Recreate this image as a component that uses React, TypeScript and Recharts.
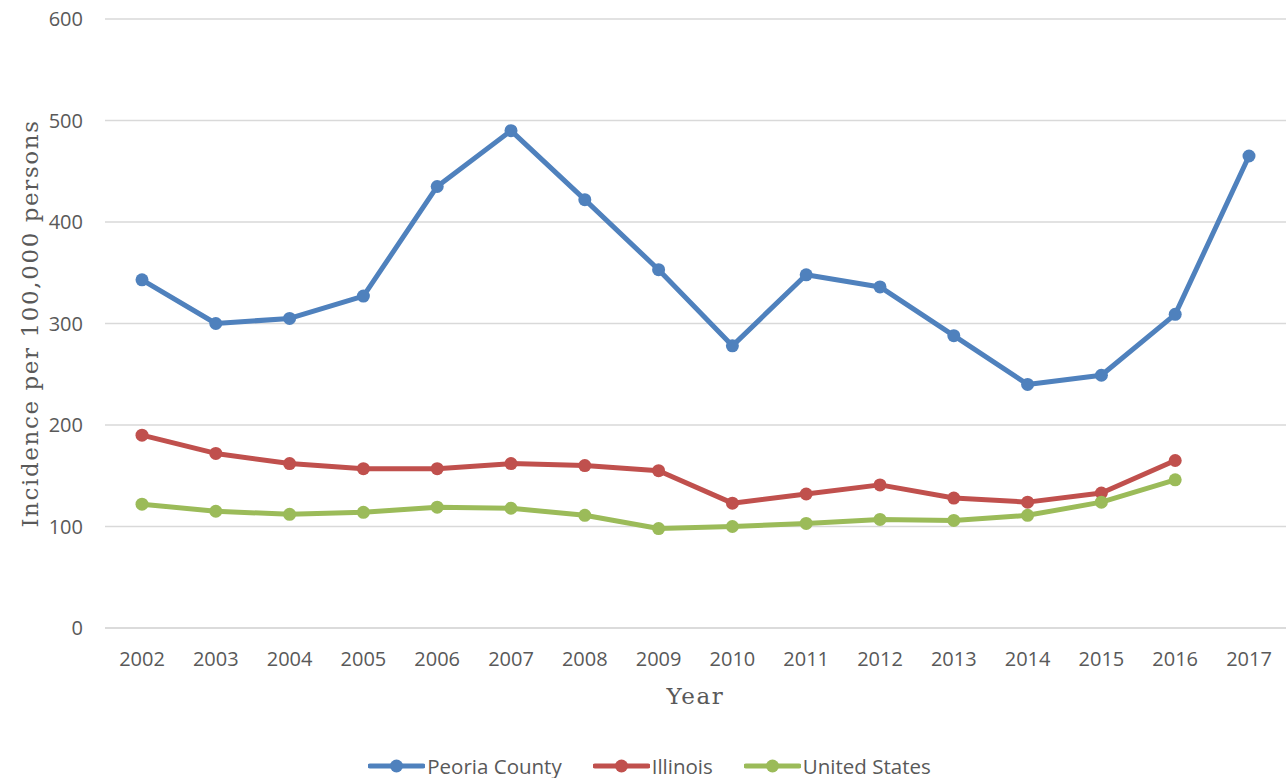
import {
  LineChart,
  Line,
  XAxis,
  YAxis,
  CartesianGrid,
  Legend,
  Label,
} from "recharts";

const years = [
  "2002", "2003", "2004", "2005", "2006", "2007", "2008", "2009",
  "2010", "2011", "2012", "2013", "2014", "2015", "2016", "2017",
];

const peoria = [343, 300, 305, 327, 435, 490, 422, 353, 278, 348, 336, 288, 240, 249, 309, 465];
const illinois = [190, 172, 162, 157, 157, 162, 160, 155, 123, 132, 141, 128, 124, 133, 165, null];
const unitedStates = [122, 115, 112, 114, 119, 118, 111, 98, 100, 103, 107, 106, 111, 124, 146, null];

const yTicks = [0, 100, 200, 300, 400, 500, 600];

const series = [
  { key: "peoria", name: "Peoria County", color: "#4F81BD" },
  { key: "illinois", name: "Illinois", color: "#C0504D" },
  { key: "us", name: "United States", color: "#9BBB59" },
];

const data = years.map((y, i) => ({
  year: y,
  peoria: peoria[i],
  illinois: illinois[i],
  us: unitedStates[i],
}));

const tickStyle = { fill: "#595959", fontSize: 20, fontFamily: "'Open Sans', sans-serif" };
const titleFont = "'DejaVu Serif', serif";

function LegendContent() {
  return (
    <div
      style={{
        display: "flex",
        justifyContent: "center",
        alignItems: "center",
        height: 24,
        paddingLeft: 13,
        fontFamily: "'Open Sans', sans-serif",
        fontSize: 20.5,
        color: "#595959",
      }}
    >
      {series.map((s, i) => (
        <div
          key={s.key}
          style={{ display: "flex", alignItems: "center", marginLeft: i === 0 ? 0 : 31 }}
        >
          <svg width={57} height={16}>
            <line x1={2} y1={8} x2={55} y2={8} stroke={s.color} strokeWidth={5} strokeLinecap="round" />
            <circle cx={28.5} cy={8} r={6.5} fill={s.color} />
          </svg>
          <span style={{ marginLeft: 2 }}>{s.name}</span>
        </div>
      ))}
    </div>
  );
}

export default function App() {
  return (
    <div style={{ position: "absolute", left: 0, top: 0, background: "#fff" }}>
      <LineChart
        width={1286}
        height={778}
        data={data}
        margin={{ top: 19, right: 0, left: 0, bottom: 0 }}
      >
        <CartesianGrid vertical={false} stroke="#d9d9d9" strokeWidth={1.3} />
        <XAxis
          dataKey="year"
          height={126}
          padding={{ left: 37, right: 37 }}
          tick={tickStyle}
          tickLine={false}
          axisLine={{ stroke: "#d9d9d9", strokeWidth: 1.3 }}
          tickSize={0}
          tickMargin={24}
          interval={0}
        >
          <Label
            value="Year"
            position="insideTop"
            offset={60}
            style={{ fill: "#595959", fontSize: 23, fontFamily: titleFont, letterSpacing: 1.6 }}
          />
        </XAxis>
        <YAxis
          width={105}
          domain={[0, 600]}
          ticks={yTicks}
          tick={tickStyle}
          tickLine={false}
          axisLine={false}
          tickSize={0}
          tickMargin={22}
          interval={0}
        >
          <Label
            content={(props: any) => {
              const vb = props.viewBox || { y: 19, height: 609 };
              const cy = vb.y + vb.height / 2;
              return (
                <text
                  x={30}
                  y={cy}
                  transform={`rotate(-90, 30, ${cy})`}
                  textAnchor="middle"
                  dominantBaseline="central"
                  style={{ fill: "#595959", fontSize: 23, fontFamily: titleFont, letterSpacing: 1.6 }}
                >
                  Incidence per 100,000 persons
                </text>
              );
            }}
          />
        </YAxis>
        <Legend verticalAlign="bottom" content={<LegendContent />} />
        {series.map((s) => (
          <Line
            key={s.key}
            dataKey={s.key}
            name={s.name}
            stroke={s.color}
            strokeWidth={5}
            strokeLinecap="round"
            strokeLinejoin="round"
            dot={{ r: 6.5, fill: s.color, stroke: s.color, strokeWidth: 0 }}
            activeDot={false}
            isAnimationActive={false}
            type="linear"
          />
        ))}
      </LineChart>
    </div>
  );
}
